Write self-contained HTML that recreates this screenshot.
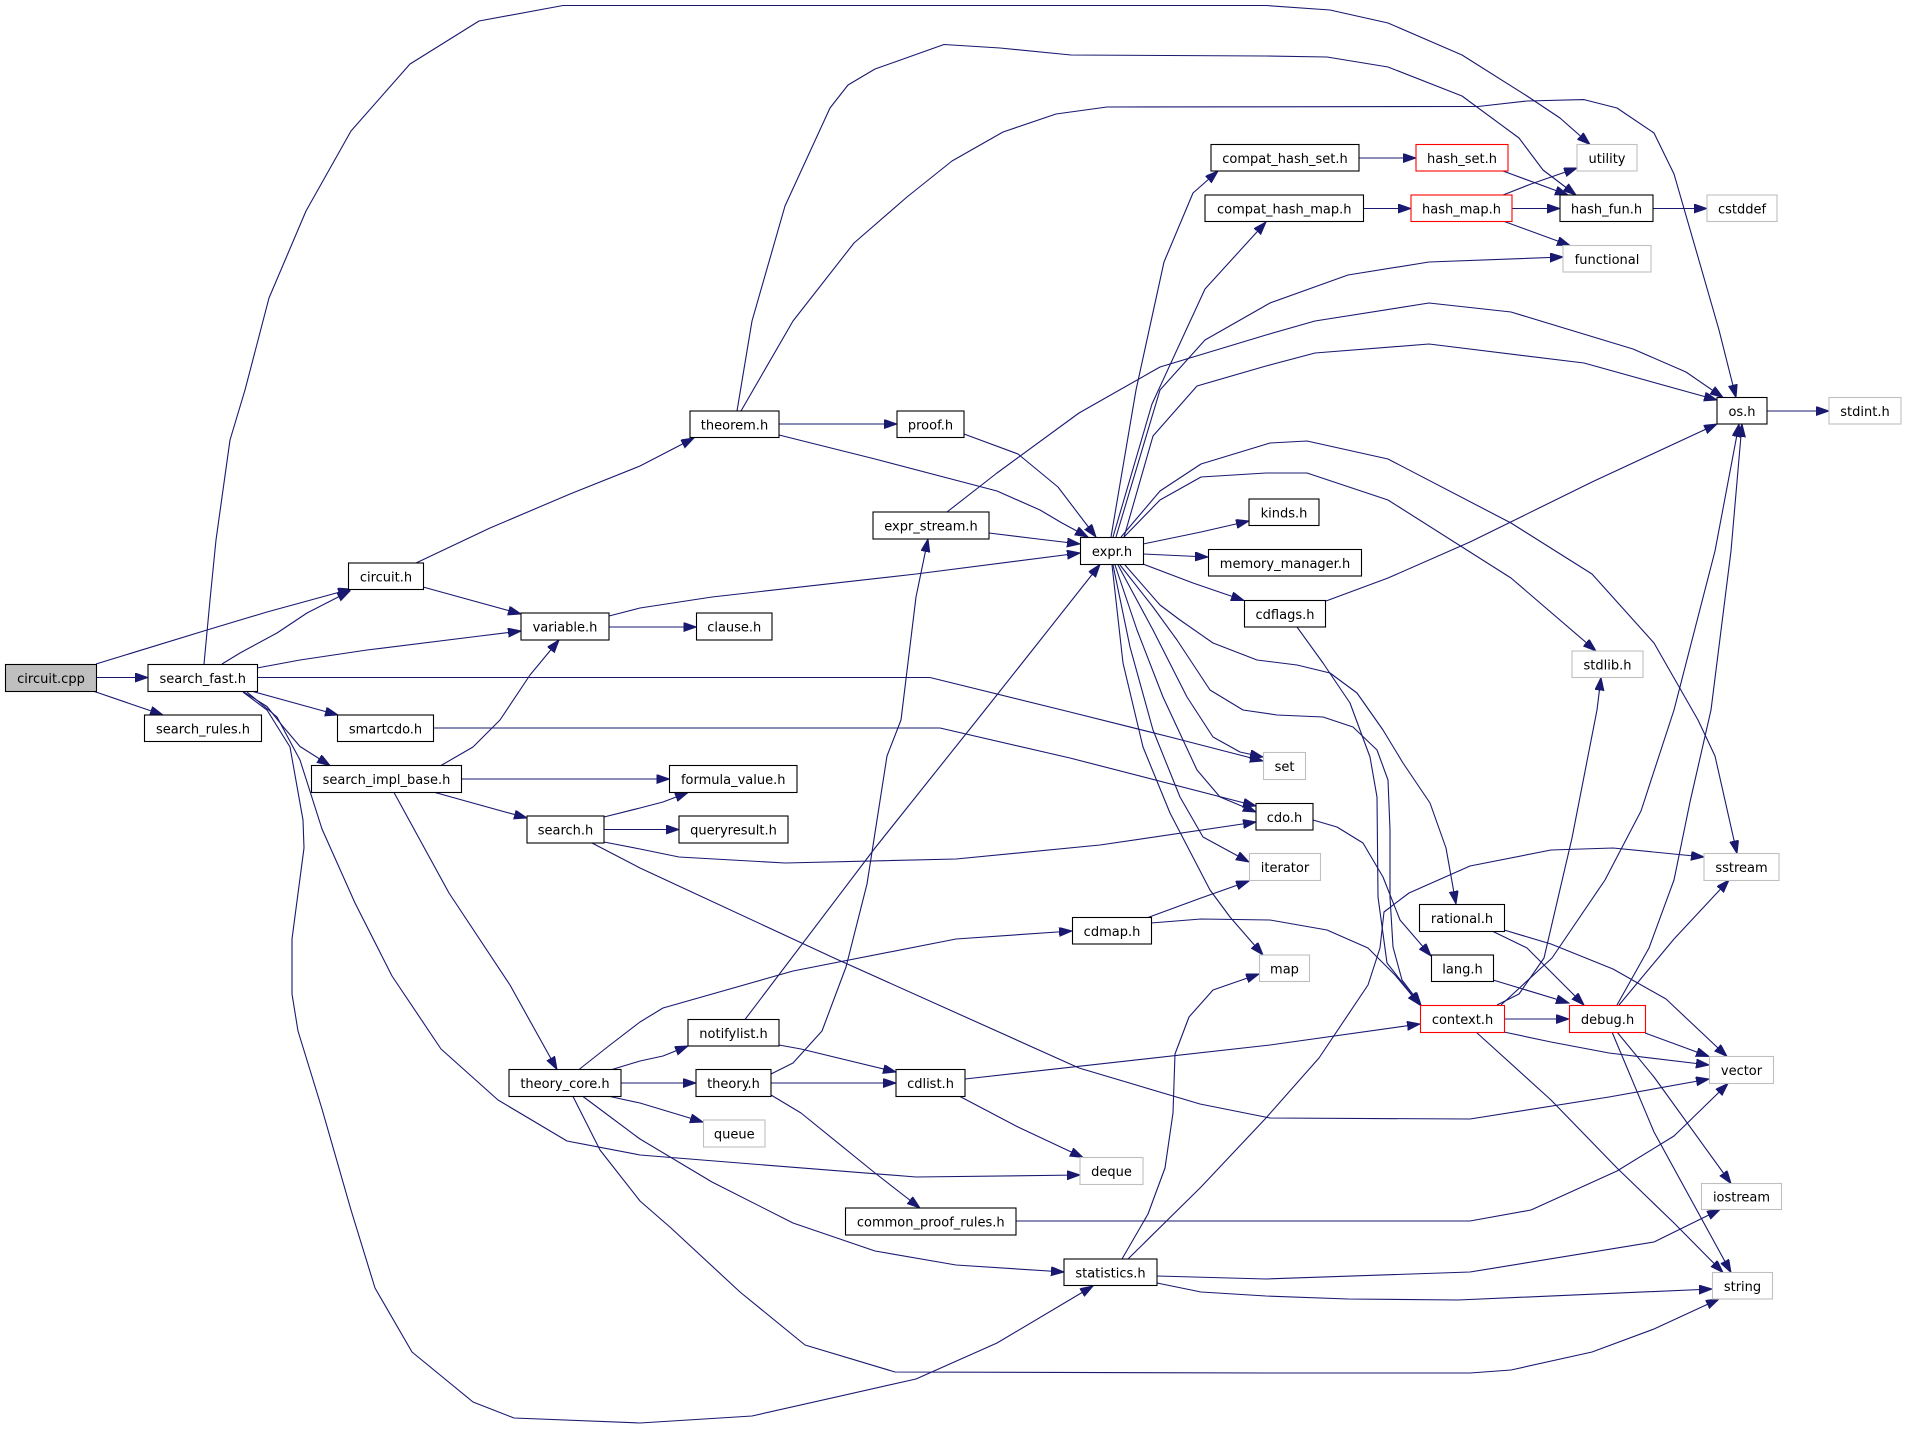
<!DOCTYPE html>
<html><head><meta charset="utf-8"><style>
html,body{margin:0;padding:0;background:#fff;}
svg{display:block;}
text{font-family:"DejaVu Sans","Liberation Sans",sans-serif;font-size:13px;fill:#000;text-anchor:middle;}
.e{fill:none;stroke:#191970;stroke-width:1.1;stroke-linejoin:round;marker-end:url(#a);}
.n{fill:#fff;stroke:#000;stroke-width:1.1;}
.g{fill:#fff;stroke:#bfbfbf;stroke-width:1.1;}
.r{fill:#fff;stroke:#ff0000;stroke-width:1.1;}
</style></head><body>
<svg width="1906" height="1429" viewBox="0 0 1906 1429" xmlns="http://www.w3.org/2000/svg">
<defs><marker id="a" markerUnits="userSpaceOnUse" markerWidth="14" markerHeight="10" refX="13" refY="4.5" orient="auto"><path d="M0,0L13,4.5L0,9z" fill="#191970" stroke="#191970" stroke-width="1"/></marker></defs>
<g>
<path class="e" d="M96,664L207,630L267,612L351,589"/>
<path class="e" d="M96.5,677.5L148,677.5"/>
<path class="e" d="M93,691L163,715"/>
<path class="e" d="M222,664L240,653L277,633L307,613L350,591"/>
<path class="e" d="M257,668L300,660L367,650L480,636L521,631"/>
<path class="e" d="M204,664L210,600L216,540L230,440L245,390L269,298L306,211L351,131L410,64L479,21L563,5.5L1266,5.5L1330,10L1388,23L1462,55L1527,96L1560,118L1590,144.5"/>
<path class="e" d="M257,677.5L930,677.5L1070,712L1170,737L1263,761"/>
<path class="e" d="M253,691.5L338,715"/>
<path class="e" d="M243,691.5L267,706.5L283,726.5L300,746.5L330,765.5"/>
<path class="e" d="M247,692L277,717L300,760L322,829L355,903L392,976L441,1049L498,1100L567,1141L640,1155L752,1164L916,1177L1080,1175"/>
<path class="e" d="M243,692L267,710L290,747L303,820L304,848L292,939L292,994L298,1031L322,1109L351,1210L375,1288L412,1352L473,1402L514,1418L640,1423L752,1416L916,1379L997,1343L1093,1286"/>
<path class="e" d="M416,563L490,528L570,494L640,466L694,438"/>
<path class="e" d="M423,587L521,614"/>
<path class="e" d="M609,627L696.5,627"/>
<path class="e" d="M609,616L640,608L712,597L916,574L1080,553"/>
<path class="e" d="M441,765.5L473,747L500,720L530,675L559,640"/>
<path class="e" d="M461.5,779L669.5,779"/>
<path class="e" d="M435,792.5L527,818"/>
<path class="e" d="M394,792.5L449,893L510,985L557,1069.5"/>
<path class="e" d="M604,817L640,808L663,802L688,792.5"/>
<path class="e" d="M604,829.5L679,829.5"/>
<path class="e" d="M604,842L640,849L679,857L785,863L956,859L1100,845L1256,822"/>
<path class="e" d="M592,843L640,868L834,958L1079,1068L1200,1104L1270,1118L1470,1119L1609,1097L1709,1079"/>
<path class="e" d="M779,424L897,424"/>
<path class="e" d="M779,435L875,459L997,491L1040,510L1062,523L1088,537"/>
<path class="e" d="M737,411L752,321L785,206L830,108L848,85L875,69L944,44.5L1000,48L1071,55L1266,56L1327,57L1388,67L1462,96L1519,138L1543,170L1576,195"/>
<path class="e" d="M741,411L793,321L854,243L907,197L952,161L1003,132L1056,114L1107,107L1478,106.5L1527,101L1584,99.6L1617,108L1654,133L1674,174L1698,257L1719,330L1736,397.5"/>
<path class="e" d="M964,434L1018,454L1058,487L1096,537"/>
<path class="e" d="M989,533L1038,539L1080,544"/>
<path class="e" d="M947,512L997,473L1079,413L1160,367L1266,335L1315,321L1429,303L1511,312L1633,349L1686,372L1723,397.5"/>
<path class="e" d="M1111,537L1136,390L1164,262L1193,193L1218,171"/>
<path class="e" d="M1113,537L1152,404L1205,289L1266,222"/>
<path class="e" d="M1116,537L1160,390L1205,340L1270,303L1348,275L1429,262L1563,257"/>
<path class="e" d="M1124,537L1153,436L1197,386L1266,366L1315,353L1429,344L1584,363L1717,400"/>
<path class="e" d="M1121,537L1160,491L1201,464L1270,443L1307,441L1388,459L1511,523L1592,574L1654,643L1698,720L1715,756L1737,853.5"/>
<path class="e" d="M1124,537L1160,500L1201,477L1266,473L1307,473L1388,500L1511,578L1596,651"/>
<path class="e" d="M1143,544L1201,532L1249,521"/>
<path class="e" d="M1143,554L1208,557"/>
<path class="e" d="M1143,564L1193,583L1244,600.5"/>
<path class="e" d="M1125,565L1160,605L1180,620L1213,643L1257,660L1297,665L1330,673L1357,693L1383,730L1403,763L1430,803L1446,848L1456,904"/>
<path class="e" d="M1120,565L1153,607L1177,640L1210,690L1243,710L1277,715L1323,717L1353,727L1377,750L1388,780L1390,830L1390,897L1393,947L1402,980L1421,1005"/>
<path class="e" d="M1118,565L1153,630L1187,697L1213,737L1240,752L1263,757"/>
<path class="e" d="M1115,565L1137,630L1163,697L1197,770L1220,797L1256,812"/>
<path class="e" d="M1113,565L1130,647L1153,730L1180,797L1203,837L1249,862"/>
<path class="e" d="M1112,565L1123,663L1143,747L1170,813L1210,890L1230,917L1263,955"/>
<path class="e" d="M1326,601L1388,578L1470,542L1592,482L1717,424"/>
<path class="e" d="M1297,627L1323,663L1350,703L1370,757L1377,797L1378,897L1387,963L1420,1005"/>
<path class="e" d="M1359,158L1416,158"/>
<path class="e" d="M1363.5,208.5L1411,208.5"/>
<path class="e" d="M1503,171L1568,195"/>
<path class="e" d="M1503,195L1531,184L1577,168"/>
<path class="e" d="M1512,208.5L1560,208.5"/>
<path class="e" d="M1503,221L1570,245.5"/>
<path class="e" d="M1653,208.5L1707,208.5"/>
<path class="e" d="M1767,411L1829,411"/>
<path class="e" d="M433.5,728L940,728L1070,758L1256,806"/>
<path class="e" d="M579,1069.5L610,1045L640,1022L663,1008L793,971L956,939L1072,931"/>
<path class="e" d="M612,1069.5L640,1061L663,1056L688,1046"/>
<path class="e" d="M621,1083L696,1083"/>
<path class="e" d="M610,1096.5L640,1103L703,1122"/>
<path class="e" d="M583,1096.5L640,1139L712,1182L793,1223L875,1251L956,1265L1064,1272"/>
<path class="e" d="M573,1096.5L600,1150L640,1201L671,1228L740,1292L805,1345L895,1372L1270,1373L1470,1373L1511,1370L1592,1352L1654,1329L1719,1299"/>
<path class="e" d="M745,1019.5L875,848L985,710L1038,643L1100,564.5"/>
<path class="e" d="M779,1045L801,1049L896,1072"/>
<path class="e" d="M771,1074L793,1063L822,1031L846,967L867,884L887,756L901,720L916,597L928,539"/>
<path class="e" d="M771,1083L896,1083"/>
<path class="e" d="M771,1095L801,1113L875,1173L920,1208"/>
<path class="e" d="M965,1079L1270,1045L1420,1024"/>
<path class="e" d="M960,1096.5L1018,1127L1083,1157.5"/>
<path class="e" d="M1148,917.5L1201,898L1249,881"/>
<path class="e" d="M1151,923L1201,919L1270,920L1327,930L1368,948L1395,975L1420,1005"/>
<path class="e" d="M1016,1221L1470,1221L1531,1210L1617,1171L1674,1136L1728,1083.5"/>
<path class="e" d="M1122,1259L1148,1214L1165,1168L1173,1113L1175,1054L1189,1017L1213,990L1259,974"/>
<path class="e" d="M1128,1259L1201,1187L1266,1118L1319,1058L1368,985L1380,948L1384,912L1409,893L1470,866L1551,850L1613,848L1704,857"/>
<path class="e" d="M1157,1276L1266,1279L1470,1272L1654,1242L1720,1209.5"/>
<path class="e" d="M1157,1283L1201,1292L1266,1296L1348,1299L1458,1300L1712,1289"/>
<path class="e" d="M1492,931L1527,948L1584,1005"/>
<path class="e" d="M1504,930L1551,944L1613,969L1666,999L1727,1056.5"/>
<path class="e" d="M1493,980L1569,1003"/>
<path class="e" d="M1313,820L1337,827L1363,843L1383,877L1400,920L1431,956"/>
<path class="e" d="M1504,1019L1569,1019"/>
<path class="e" d="M1497,1005L1519,994L1544,958L1572,838L1597,710L1601,677.5"/>
<path class="e" d="M1501,1005L1552,958L1605,880L1641,811L1674,710L1715,551L1739,424"/>
<path class="e" d="M1504,1032L1551,1042L1609,1053L1709,1065"/>
<path class="e" d="M1476,1032L1551,1100L1617,1168L1674,1223L1723,1272.5"/>
<path class="e" d="M1617,1005L1649,948L1674,880L1690,802L1711,710L1731,551L1742,424"/>
<path class="e" d="M1619,1005L1674,939L1729,880"/>
<path class="e" d="M1645,1033L1709,1056.5"/>
<path class="e" d="M1617,1032L1654,1077L1731,1183.5"/>
<path class="e" d="M1612,1032L1654,1132L1731,1272.5"/>
</g>
<g>
<rect x="5.5" y="664.5" width="91" height="27" fill="#bfbfbf" stroke="#000" stroke-width="1.1"/><text x="51" y="683">circuit.cpp</text>
<rect class="n" x="148" y="664.5" width="109.5" height="27"/><text x="202.75" y="683">search_fast.h</text>
<rect class="n" x="348.5" y="563" width="75" height="26.5"/><text x="386" y="581.5">circuit.h</text>
<rect class="n" x="521" y="613" width="88" height="27"/><text x="565" y="631.5">variable.h</text>
<rect class="n" x="144.5" y="715" width="117" height="26.5"/><text x="203" y="733.5">search_rules.h</text>
<rect class="n" x="337.5" y="715" width="96" height="26.5"/><text x="385.5" y="733.5">smartcdo.h</text>
<rect class="n" x="311.5" y="765.5" width="150" height="27"/><text x="386.5" y="784">search_impl_base.h</text>
<rect class="n" x="527" y="816" width="77" height="27"/><text x="565.5" y="834.5">search.h</text>
<rect class="n" x="509" y="1069.5" width="112" height="27"/><text x="565" y="1088">theory_core.h</text>
<rect class="n" x="690" y="411" width="89" height="26.5"/><text x="734.5" y="429.5">theorem.h</text>
<rect class="n" x="897" y="411" width="67" height="26.5"/><text x="930.5" y="429.5">proof.h</text>
<rect class="n" x="873" y="512" width="116" height="27"/><text x="931" y="530.5">expr_stream.h</text>
<rect class="n" x="1080.5" y="537.5" width="63" height="27"/><text x="1112" y="556">expr.h</text>
<rect class="n" x="696.5" y="613" width="75.5" height="27"/><text x="734.25" y="631.5">clause.h</text>
<rect class="n" x="1211" y="144.5" width="148" height="26.5"/><text x="1285" y="163">compat_hash_set.h</text>
<rect class="n" x="1205" y="195" width="158.5" height="26.5"/><text x="1284.25" y="213.5">compat_hash_map.h</text>
<rect class="r" x="1416" y="144.5" width="92" height="26.5"/><text x="1462" y="163">hash_set.h</text>
<rect class="r" x="1411" y="195" width="101" height="26.5"/><text x="1461.5" y="213.5">hash_map.h</text>
<rect class="g" x="1577" y="144.5" width="60" height="26.5"/><text x="1607" y="163">utility</text>
<rect class="n" x="1560" y="195" width="93" height="26.5"/><text x="1606.5" y="213.5">hash_fun.h</text>
<rect class="g" x="1707" y="195" width="70" height="26.5"/><text x="1742" y="213.5">cstddef</text>
<rect class="g" x="1563" y="245.5" width="88" height="26.5"/><text x="1607" y="264">functional</text>
<rect class="n" x="1717" y="397.5" width="50" height="26.5"/><text x="1742" y="416">os.h</text>
<rect class="g" x="1829" y="397.5" width="72" height="26.5"/><text x="1865" y="416">stdint.h</text>
<rect class="n" x="1249" y="499" width="70" height="26.5"/><text x="1284" y="517.5">kinds.h</text>
<rect class="n" x="1208.5" y="549.5" width="153" height="26.5"/><text x="1285" y="568">memory_manager.h</text>
<rect class="n" x="1244.5" y="600.5" width="81" height="26.5"/><text x="1285" y="619">cdflags.h</text>
<rect class="g" x="1572" y="651" width="71" height="26.5"/><text x="1607.5" y="669.5">stdlib.h</text>
<rect class="n" x="669.5" y="765.5" width="127.5" height="27"/><text x="733.25" y="784">formula_value.h</text>
<rect class="n" x="679" y="816" width="109" height="27"/><text x="733.5" y="834.5">queryresult.h</text>
<rect class="n" x="1072.5" y="917.5" width="79" height="26.5"/><text x="1112" y="936">cdmap.h</text>
<rect class="n" x="688" y="1019.5" width="91" height="26.5"/><text x="733.5" y="1038">notifylist.h</text>
<rect class="n" x="696" y="1069.5" width="75" height="27"/><text x="733.5" y="1088">theory.h</text>
<rect class="n" x="896" y="1069.5" width="69" height="27"/><text x="930.5" y="1088">cdlist.h</text>
<rect class="g" x="703.5" y="1120" width="61.5" height="27"/><text x="734.25" y="1138.5">queue</text>
<rect class="g" x="1080" y="1157.5" width="63" height="27"/><text x="1111.5" y="1176">deque</text>
<rect class="n" x="845.5" y="1208" width="170.5" height="27"/><text x="930.75" y="1226.5">common_proof_rules.h</text>
<rect class="n" x="1064" y="1259" width="93" height="26.5"/><text x="1110.5" y="1277.5">statistics.h</text>
<rect class="g" x="1263.5" y="752.5" width="42" height="27"/><text x="1284.5" y="771">set</text>
<rect class="n" x="1256" y="803.5" width="57" height="26.5"/><text x="1284.5" y="822">cdo.h</text>
<rect class="g" x="1249.5" y="853.5" width="71" height="27"/><text x="1285" y="872">iterator</text>
<rect class="g" x="1259.5" y="955" width="50" height="26.5"/><text x="1284.5" y="973.5">map</text>
<rect class="g" x="1704" y="853.5" width="75" height="27"/><text x="1741.5" y="872">sstream</text>
<rect class="n" x="1419.5" y="904.5" width="85" height="27"/><text x="1462" y="923">rational.h</text>
<rect class="n" x="1431.5" y="955" width="62" height="26.5"/><text x="1462.5" y="973.5">lang.h</text>
<rect class="r" x="1420.5" y="1005.5" width="84" height="27"/><text x="1462.5" y="1024">context.h</text>
<rect class="r" x="1569.5" y="1005.5" width="76" height="27"/><text x="1607.5" y="1024">debug.h</text>
<rect class="g" x="1709.5" y="1056.5" width="64" height="27"/><text x="1741.5" y="1075">vector</text>
<rect class="g" x="1701.5" y="1183.5" width="80" height="26"/><text x="1741.5" y="1201.5">iostream</text>
<rect class="g" x="1712.5" y="1272.5" width="60" height="26.5"/><text x="1742.5" y="1291">string</text>
</g>
</svg>
</body></html>
